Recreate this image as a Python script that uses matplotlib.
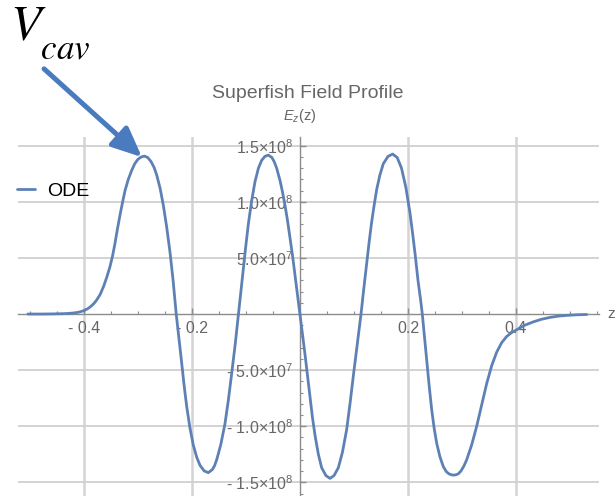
import numpy as np
import matplotlib
matplotlib.use("Agg")
import matplotlib.pyplot as plt
import matplotlib.patheffects as pe
from matplotlib.patches import FancyArrowPatch

plt.rcParams['font.family'] = ['Liberation Sans', 'DejaVu Sans']
plt.rcParams['mathtext.fontset'] = 'custom'
plt.rcParams['mathtext.rm'] = 'Liberation Sans'
plt.rcParams['mathtext.it'] = 'Liberation Sans:italic'

# drop the subscript of V_cav a bit lower, like the hand-placed label
try:
    from matplotlib import _mathtext
    _mathtext.STIXFontConstants.sub1 = 0.88
    _mathtext.STIXFontConstants.sub2 = 0.88
except Exception:
    pass

# Ez(z), z in m, Ez in units of 1e8
z = [-0.504, -0.48, -0.46, -0.44, -0.43, -0.42, -0.41, -0.40, -0.394, -0.388,
     -0.382, -0.3765, -0.370, -0.364, -0.358, -0.352, -0.347, -0.3426, -0.338, -0.333,
     -0.328, -0.324, -0.318, -0.3117, -0.306, -0.300, -0.294, -0.288, -0.282, -0.276,
     -0.270, -0.2654, -0.259, -0.2531, -0.247, -0.2407, -0.235, -0.2292, -0.224, -0.219,
     -0.2145, -0.2099, -0.204, -0.1975, -0.191, -0.185, -0.1775, -0.1698, -0.162, -0.158,
     -0.154, -0.1465, -0.139, -0.133, -0.1265, -0.120, -0.114, -0.1095, -0.105, -0.1005,
     -0.0957, -0.0895, -0.0833, -0.077, -0.071, -0.065, -0.0587, -0.052, -0.0475, -0.0432,
     -0.037, -0.0325, -0.0278, -0.023, -0.0185, -0.0138, -0.0093, -0.0046, 0.0, 0.0046,
     0.0093, 0.0139, 0.0185, 0.023, 0.0278, 0.034, 0.0401, 0.048, 0.0556, 0.063,
     0.071, 0.0787, 0.0864, 0.0926, 0.0988, 0.106, 0.113, 0.118, 0.1235, 0.128,
     0.1327, 0.137, 0.142, 0.148, 0.1543, 0.163, 0.1716, 0.180, 0.188, 0.196,
     0.2037, 0.2085, 0.2135, 0.2185, 0.2235, 0.2265, 0.2305, 0.2346, 0.239, 0.2438,
     0.2485, 0.2531, 0.259, 0.2654, 0.271, 0.276, 0.282, 0.287, 0.293, 0.298,
     0.3035, 0.3086, 0.318, 0.3272, 0.3365, 0.3457, 0.355, 0.3642, 0.3735, 0.3827,
     0.392, 0.4012, 0.416, 0.432, 0.447, 0.463, 0.478, 0.494, 0.512, 0.531]
ez = [0.0, 0.0, 0.001, 0.003, 0.005, 0.009, 0.016, 0.03, 0.045, 0.065,
      0.092, 0.125, 0.175, 0.243, 0.325, 0.42, 0.52, 0.63, 0.76, 0.89,
      1.01, 1.10, 1.20, 1.28, 1.34, 1.38, 1.40, 1.408, 1.395, 1.36,
      1.305, 1.24, 1.12, 0.97, 0.78, 0.55, 0.30, 0.0, -0.22, -0.44,
      -0.64, -0.82, -1.01, -1.17, -1.28, -1.35, -1.398, -1.414, -1.385, -1.35,
      -1.295, -1.16, -0.98, -0.78, -0.53, -0.27, 0.0, 0.20, 0.40, 0.60,
      0.80, 1.01, 1.18, 1.30, 1.37, 1.405, 1.417, 1.395, 1.355, 1.30,
      1.19, 1.09, 0.97, 0.83, 0.68, 0.52, 0.35, 0.175, 0.0, -0.18,
      -0.36, -0.55, -0.74, -0.92, -1.08, -1.25, -1.37, -1.44, -1.465, -1.44,
      -1.37, -1.23, -1.03, -0.80, -0.55, -0.27, 0.0, 0.22, 0.45, 0.64,
      0.82, 0.96, 1.11, 1.24, 1.34, 1.405, 1.426, 1.395, 1.30, 1.13,
      0.90, 0.72, 0.52, 0.30, 0.12, 0.0, -0.20, -0.40, -0.63, -0.85,
      -1.02, -1.15, -1.27, -1.36, -1.405, -1.425, -1.435, -1.435, -1.425, -1.40,
      -1.355, -1.30, -1.165, -1.00, -0.81, -0.62, -0.46, -0.34, -0.255, -0.20,
      -0.165, -0.14, -0.10, -0.07, -0.047, -0.03, -0.019, -0.012, -0.007, -0.004]

x_major = [-0.4, -0.2, 0.2, 0.4]
x_labels = ['- 0.4', '- 0.2', '0.2', '0.4']
y_major = [-1.5e8, -1.0e8, -0.5e8, 0.5e8, 1.0e8, 1.5e8]
y_labels = [r'- 1.5$\times$10$^{8}$', r'- 1.0$\times$10$^{8}$', r'- 5.0$\times$10$^{7}$',
            r'5.0$\times$10$^{7}$', r'1.0$\times$10$^{8}$', r'1.5$\times$10$^{8}$']

line_color = '#5e81b5'
gray = '#666666'

fig = plt.figure(figsize=(6.16, 4.96), dpi=100)
ax = fig.add_axes([18 / 616, 0, 581 / 616, 359 / 496])

ax.plot(z, np.array(ez) * 1e8, color=line_color, lw=2.0, label='ODE', zorder=3,
        solid_joinstyle='round', solid_capstyle='round')

ax.set_xlim(-0.5222, 0.5537)
ax.set_ylim(-1.622e8, 1.578e8)

# axes through the origin, Mathematica style
for s in ['top', 'right']:
    ax.spines[s].set_visible(False)
ax.spines['left'].set_position(('data', 0))
ax.spines['bottom'].set_position(('data', 0))
for s in ['left', 'bottom']:
    ax.spines[s].set_color('#8c8c8c')
    ax.spines[s].set_linewidth(1.0)

ax.set_xticks(x_major, x_labels)
ax.set_xticks(np.arange(-0.5, 0.551, 0.05), minor=True)
ax.set_yticks(y_major, y_labels)
ax.set_yticks(np.arange(-1.6e8, 1.6e8, 1e7), minor=True)
ax.tick_params(which='both', direction='in', color='#8c8c8c', labelcolor=gray,
               labelsize=11.5)
ax.tick_params(which='major', length=4, width=1)
ax.tick_params(which='minor', length=2.5, width=0.8)
ax.tick_params(axis='x', pad=5)
ax.tick_params(axis='y', pad=5)

ax.grid(axis='x', which='major', color='#d4d4d4', lw=1.8, zorder=0)
ax.grid(axis='y', which='major', color='#d0d0d0', lw=1.3, zorder=0)
ax.set_axisbelow(True)

ax.text(0.570, 0, 'z', color=gray, fontsize=11, ha='left', va='center', clip_on=False)

fig.text(308 / 616, 1 - 94 / 496, 'Superfish Field Profile', color=gray, fontsize=14,
         ha='center', va='center')
fig.text(300 / 616, 1 - 116 / 496, r'$E_z$(z)', color=gray, fontsize=10.5,
         ha='center', va='center')

ax.legend(loc='center left', bbox_to_anchor=(17 / 616, 1 - 191 / 496),
          bbox_transform=fig.transFigure, frameon=False, fontsize=14,
          handlelength=0.93, handletextpad=0.6, borderpad=0, borderaxespad=0)

# V_cav annotation with arrow to the first peak
fig.text(10 / 616, 1 - 40 / 496, r'$V_{cav}$', math_fontfamily='stix',
         fontsize=36, ha='left', va='baseline')
arrow = FancyArrowPatch((42 / 616, 1 - 67 / 496), (144 / 616, 1 - 159 / 496),
                        transform=fig.transFigure,
                        arrowstyle='-|>,head_length=0.9,head_width=0.4',
                        mutation_scale=20, lw=3.6, color='#4a7bbf', zorder=5,
                        path_effects=[pe.SimplePatchShadow(offset=(2, -2), alpha=0.3), pe.Normal()])
fig.add_artist(arrow)

fig.savefig('out.png', dpi=100)
